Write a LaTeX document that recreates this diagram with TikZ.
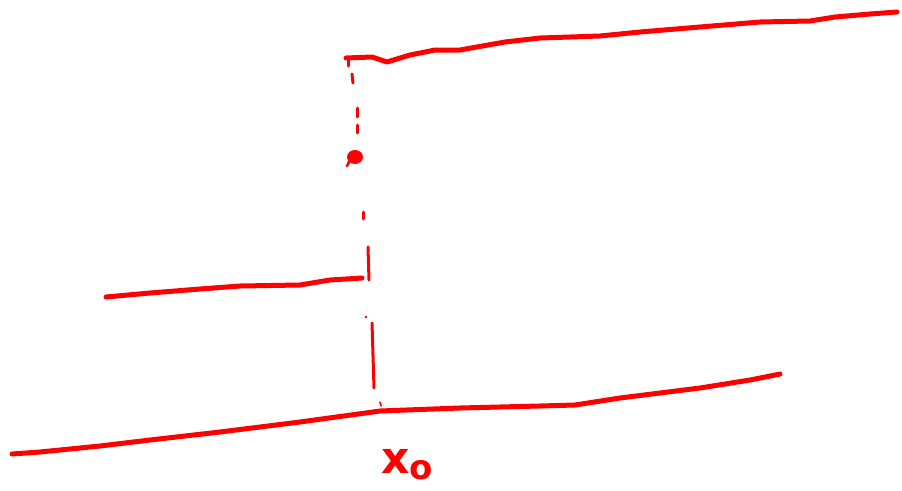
\documentclass[tikz,border=0pt]{standalone}
\usepackage{fontspec}
\setmainfont{DejaVu Sans}
\definecolor{ink}{RGB}{255,0,0}
\tikzset{
  stroke/.style={draw=ink, line width=5pt, line cap=round, line join=round},
  dashmark/.style={draw=ink, line width=3pt, line cap=round},
}
\begin{document}
\begin{tikzpicture}[x=1pt,y=-1pt]
\useasboundingbox (0,0) rectangle (902,490);
% top curve
\draw[stroke] (346,58) -- (372,57) -- (387,62) -- (410,55) -- (435,50) -- (460,50) -- (505,42) -- (540,38) -- (600,36) -- (640,32) -- (700,27) -- (760,22) -- (810,21) -- (835,17) -- (870,14) -- (897,12);
% middle curve
\draw[stroke] (106,297) -- (150,293) -- (200,289) -- (240,286) -- (300,285) -- (330,280) -- (362,278);
% bottom curve
\draw[stroke] (12,454) -- (40,452) -- (100,446) -- (150,440) -- (220,432) -- (300,422) -- (380,411) -- (460,408) -- (540,406) -- (575,405) -- (620,398) -- (700,388) -- (750,380) -- (780,374);
% dashed vertical
\draw[dashmark] (348,60) -- (348,66);
\draw[dashmark] (352,74) -- (353,83);
\draw[dashmark] (357,108) -- (357,117);
\draw[dashmark] (357,125) -- (357,133);
\fill[ink] (355,157) ellipse (8 and 7);
\draw[dashmark, line width=2.5pt] (350,160) -- (347,166);
\draw[dashmark] (363,212) -- (363,219);
\draw[dashmark] (368,247) -- (369,280);
\fill[ink] (366,317) circle (1.3);
\draw[dashmark] (372,323) -- (374,388);
\draw[dashmark, line width=1.6pt] (380,402) -- (381,406);
% label
\node[text=ink, anchor=base west, inner sep=0pt] (lbl) at (381,473) {\fontsize{44}{44}\selectfont\bfseries x\raisebox{-0.25ex}{\fontsize{34}{34}\selectfont o}};
\end{tikzpicture}
\end{document}
